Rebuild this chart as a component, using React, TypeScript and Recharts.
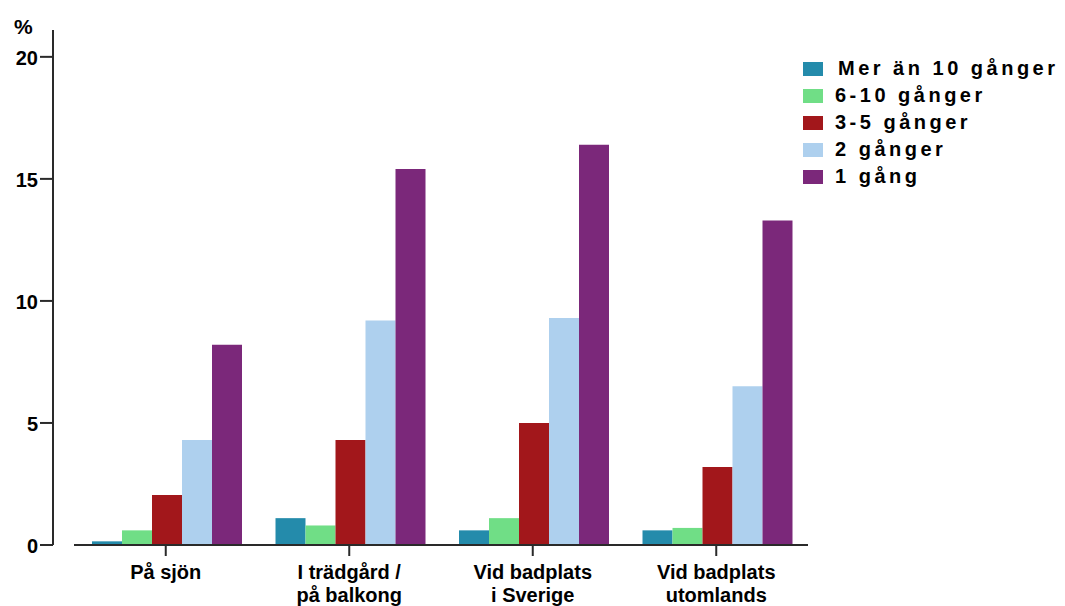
import { BarChart, Bar, XAxis, YAxis, Legend } from "recharts";

const platser = [
  "På sjön",
  "I trädgård /\npå balkong",
  "Vid badplats\ni Sverige",
  "Vid badplats\nutomlands",
];
const merAn10 = [0.15, 1.1, 0.6, 0.6];
const sexTill10 = [0.6, 0.8, 1.1, 0.7];
const treTill5 = [2.05, 4.3, 5.0, 3.2];
const tvaGanger = [4.3, 9.2, 9.3, 6.5];
const enGang = [8.2, 15.4, 16.4, 13.3];
const yTicks = [0, 5, 10, 15, 20];

const serier = [
  { key: "merAn10", namn: "Mer än 10 gånger", farg: "#248bab" },
  { key: "sexTill10", namn: "6-10 gånger", farg: "#70de86" },
  { key: "treTill5", namn: "3-5 gånger", farg: "#a2171b" },
  { key: "tvaGanger", namn: "2 gånger", farg: "#aed0ee" },
  { key: "enGang", namn: "1 gång", farg: "#7b287a" },
];

const data = platser.map((plats, i) => ({
  plats,
  merAn10: merAn10[i],
  sexTill10: sexTill10[i],
  treTill5: treTill5[i],
  tvaGanger: tvaGanger[i],
  enGang: enGang[i],
}));

const font = "'Liberation Sans', Arial, sans-serif";
const axelFarg = "#2a2a2a";
// y-axeln sitter en bit till vänster om x-axelns början
const yForskjutning = -21;

const YTick = (props: any) => {
  const { x, y, payload } = props;
  return (
    <text
      x={x + yForskjutning}
      y={y}
      dy={8}
      textAnchor="end"
      fontFamily={font}
      fontWeight="bold"
      fontSize={20}
      fill="#000"
    >
      {payload.value}
    </text>
  );
};

const XTick = (props: any) => {
  const { x, y, payload } = props;
  const rader = String(payload.value).split("\n");
  return (
    <text
      x={x}
      y={y}
      textAnchor="middle"
      fontFamily={font}
      fontWeight="bold"
      fontSize={20}
      fill="#000"
    >
      {rader.map((rad, i) => (
        <tspan key={i} x={x} dy={i === 0 ? 21 : 23}>
          {rad}
        </tspan>
      ))}
    </text>
  );
};

const Teckenforklaring = () => (
  <div style={{ fontFamily: font }}>
    {serier.map((s, i) => (
      <div
        key={s.key}
        style={{ display: "flex", alignItems: "center", height: 27 }}
      >
        <div
          style={{
            width: 20,
            height: 14,
            flexShrink: 0,
            background: s.farg,
            marginRight: i === 0 ? 15 : 12,
          }}
        />
        <span
          style={{
            fontWeight: "bold",
            fontSize: 20,
            letterSpacing: 3.5,
            color: "#000",
            whiteSpace: "nowrap",
          }}
        >
          {s.namn}
        </span>
      </div>
    ))}
  </div>
);

export default function App() {
  return (
    <div style={{ position: "absolute", left: 0, top: 0, width: 1065, height: 606 }}>
      <svg
        width={60}
        height={40}
        style={{ position: "absolute", left: 0, top: 0 }}
      >
        <text x={14} y={34} fontFamily={font} fontWeight="bold" fontSize={21} fill="#000">
          %
        </text>
      </svg>
      <BarChart
        width={1065}
        height={606}
        data={data}
        margin={{ top: 30, right: 7, left: 0, bottom: 0 }}
        barCategoryGap={18}
        barGap={0}
      >
        <XAxis
          dataKey="plats"
          interval={0}
          tick={<XTick />}
          tickSize={11}
          axisLine={{ stroke: axelFarg, strokeWidth: 2 }}
          tickLine={{ stroke: axelFarg, strokeWidth: 2 }}
          height={61}
        />
        <YAxis
          domain={[0, 21.1]}
          ticks={yTicks}
          width={74}
          tick={<YTick />}
          tickSize={13}
          axisLine={{ stroke: axelFarg, strokeWidth: 2, transform: `translate(${yForskjutning},0)` }}
          tickLine={{ stroke: axelFarg, strokeWidth: 2, transform: `translate(${yForskjutning},0)` }}
          allowDataOverflow
        />
        <Legend
          layout="vertical"
          verticalAlign="top"
          align="right"
          content={<Teckenforklaring />}
          wrapperStyle={{ left: 803, top: 55, width: 250 }}
        />
        {serier.map((s) => (
          <Bar
            key={s.key}
            dataKey={s.key}
            name={s.namn}
            fill={s.farg}
            isAnimationActive={false}
          />
        ))}
      </BarChart>
    </div>
  );
}
